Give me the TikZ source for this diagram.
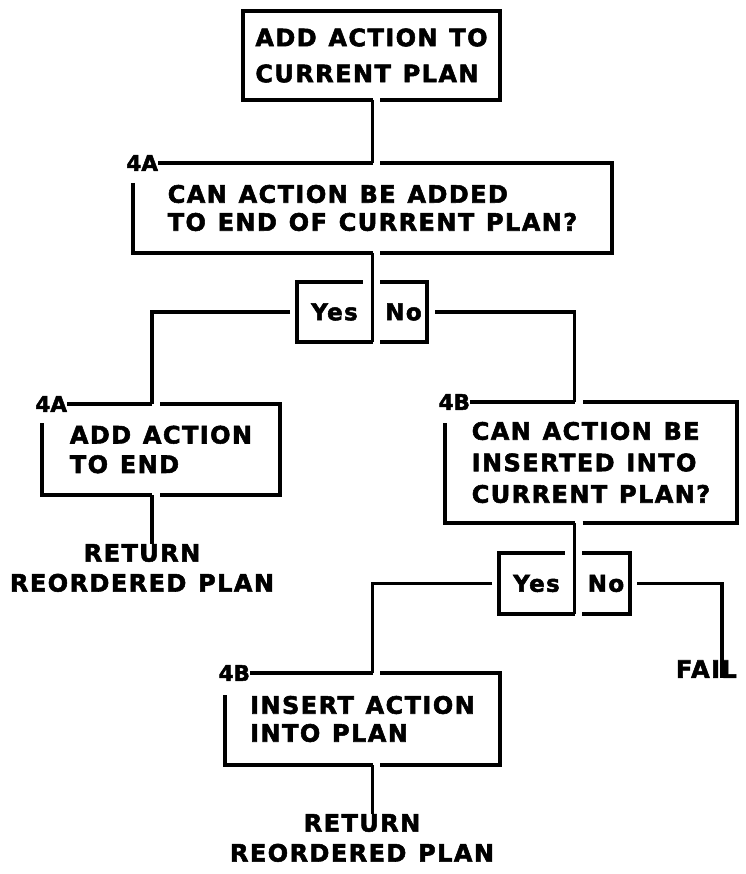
\documentclass[tikz,border=0pt]{standalone}
\usepackage{fontspec}
\usetikzlibrary{calc}
% plotter-style lettering: heavy sans with wide tracking
\newfontfamily\plotfont{DejaVu Sans Bold}[LetterSpace=6,WordSpace=1.2,FakeBold=2.2]
\newfontfamily\tagfont{DejaVu Sans Bold}[FakeBold=2.2]
\begin{document}
\begin{tikzpicture}[x=1pt,y=-1pt,
  line width=3.2pt,
  every node/.style={inner sep=0pt,outer sep=0pt},
  boxarea/.style={align=left,font={\plotfont\fontsize{24}{28}\selectfont}},
  chip/.style={font={\plotfont\fontsize{23}{28}\selectfont}},
  tag/.style={anchor=east,font={\tagfont\fontsize{21.5}{24}\selectfont}},
  exit/.style={align=center,font={\plotfont\fontsize{24}{30}\selectfont}}
]
\useasboundingbox (0,0) rectangle (745,874);

% x positions of the vertical connectors
\coordinate (k1) at (372.5,0);
\coordinate (k3) at (152,0);
\coordinate (k4) at (574.5,0);
\coordinate (k5) at (722,0);

% ---- top box
\node[boxarea,font={\plotfont\fontsize{24}{36}\selectfont},
      minimum width=257pt,minimum height=89pt] (b1) at (371.5,55.5)
      {ADD ACTION TO\\CURRENT PLAN};
\draw (b1.south -| k1) -- (b1.south west) -- (b1.north west) -- (b1.north east)
      -- (b1.south east) -- ($(b1.south -| k1)+(7,0)$);

% ---- 4A test
\node[boxarea,minimum width=479pt,minimum height=90pt] (b2) at (372.5,208)
      {CAN ACTION BE ADDED\\TO END OF CURRENT PLAN?};
\node[tag] (t2) at (158,163) {4A};
\draw ([yshift=-20pt]b2.north west) -- (b2.south west) -- (b2.south -| k1);
\draw ($(b2.south -| k1)+(7.5,0)$) -- (b2.south east) -- (b2.north east) -- ($(b2.north -| k1)+(7.5,0)$);
\draw (t2.east) -- (b2.north -| k1);
\draw (b1.south -| k1) -- (b2.north -| k1);

% ---- first Yes / No
\node[chip,minimum width=75pt,minimum height=60pt] (y1) at (334.5,312) {Yes};
\node[chip,minimum width=47pt,minimum height=60pt] (n1) at (403.5,312) {No};
\draw (b2.south -| k1) -- (y1.south -| k1);
\draw (y1.south -| k1) -- (y1.south west) -- (y1.north west) -- ($(y1.north east)+(-9,0)$);
\draw (n1.north west) -- (n1.north east) -- (n1.south east) -- (n1.south west);

% ---- 4A action
\node[boxarea,font={\plotfont\fontsize{24}{29.5}\selectfont},
      minimum width=238pt,minimum height=91pt] (b3) at (161,449.5)
      {ADD ACTION\\TO END};
\node[tag] (t3) at (67,404) {4A};
\draw ([yshift=-19pt]b3.north west) -- (b3.south west) -- (b3.south -| k3);
\draw ($(b3.south -| k3)+(8,0)$) -- (b3.south east) -- (b3.north east) -- ($(b3.north -| k3)+(8,0)$);
\draw (t3.east) -- (b3.north -| k3);
\draw ($(y1.west)+(-7,0)$) -| (b3.north -| k3);

\node[exit] (r1) at (142,568) {RETURN\\REORDERED PLAN};
\draw (b3.south -| k3) -- (r1.north -| k3);

% ---- 4B test
\node[boxarea,font={\plotfont\fontsize{24}{31.5}\selectfont},
      minimum width=292pt,minimum height=121pt] (b4) at (591,462.5)
      {CAN ACTION BE\\INSERTED INTO\\CURRENT PLAN?};
\node[tag] (t4) at (470,402) {4B};
\draw ([yshift=-21pt]b4.north west) -- (b4.south west) -- (b4.south -| k4);
\draw ($(b4.south -| k4)+(8,0)$) -- (b4.south east) -- (b4.north east) -- ($(b4.north -| k4)+(8,0)$);
\draw (t4.east) -- (b4.north -| k4);
\draw ($(n1.east)+(8,0)$) -| (b4.north -| k4);

% ---- second Yes / No
\node[chip,minimum width=75pt,minimum height=61pt] (y2) at (536.5,583.5) {Yes};
\node[chip,minimum width=48pt,minimum height=61pt] (n2) at (606,583.5) {No};
\draw (b4.south -| k4) -- (y2.south -| k4);
\draw (y2.south -| k4) -- (y2.south west) -- (y2.north west) -- ($(y2.north east)+(-9,0)$);
\draw (n2.north west) -- (n2.north east) -- (n2.south east) -- (n2.south west);

% ---- 4B action
\node[boxarea,minimum width=275pt,minimum height=92pt] (b5) at (362.5,719)
      {INSERT ACTION\\INTO PLAN};
\node[tag] (t5) at (250,673) {4B};
\draw ([yshift=-22pt]b5.north west) -- (b5.south west) -- (b5.south -| k1);
\draw ($(b5.south -| k1)+(7.5,0)$) -- (b5.south east) -- (b5.north east) -- ($(b5.north -| k1)+(7.5,0)$);
\draw (t5.east) -- (b5.north -| k1);
\draw ($(y2.west)+(-7,0)$) -| (b5.north -| k1);

\node[exit] (r2) at (362,838) {RETURN\\REORDERED PLAN};
\draw (b5.south -| k1) -- (r2.north -| k1);

% ---- failure exit: the connector runs down through the I
\node[exit,anchor=west] (fail) at (676,669) {FAIL};
\draw ($(n2.east)+(7,0)$) -| (fail.south -| k5);
\end{tikzpicture}
\end{document}
